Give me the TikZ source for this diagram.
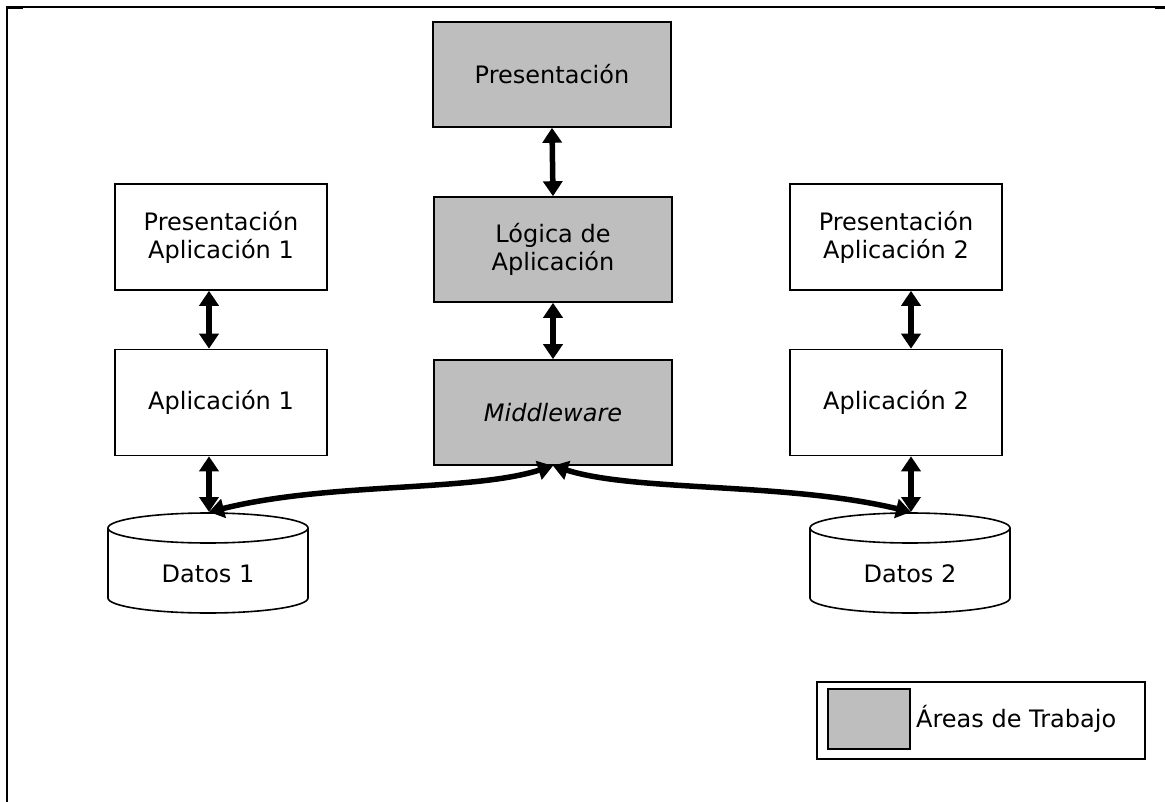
\documentclass[tikz,border=0pt]{standalone}
\usepackage{fontspec}
\setmainfont{DejaVu Sans}
\usetikzlibrary{arrows.meta}
\definecolor{areagray}{RGB}{190,190,190}
\tikzset{
  box/.style={draw, line width=1.6pt, align=center, inner sep=0pt,
    font=\fontsize{24}{28}\selectfont},
  sidebox/.style={box, minimum width=212pt, minimum height=106pt},
  workbox/.style={box, fill=areagray, minimum width=238pt, minimum height=105pt},
  tipshape/.tip={Triangle[length=15pt,width=19pt]},
  link/.style={line width=5.5pt, tipshape-tipshape},
  drum/.style={draw, line width=1.6pt, fill=white},
}
\begin{document}
\begin{tikzpicture}[x=1pt,y=-1pt]
  \useasboundingbox (0,0) rectangle (1165,802);
  % frame
  \draw[line width=1.4pt] (7,7) -- (1165,7);
  \draw[line width=2.2pt] (7,802) -- (7,7);
  \draw[line width=2.4pt] (6,7.5) -- (23,7.5);
  \draw[line width=2.4pt] (1155,7.5) -- (1165,7.5);

  % central stack
  \node[workbox] (pres)  at (552,74.5)  {Presentación};
  \node[workbox] (logic) at (553,249.5) {Lógica de\\Aplicación};
  \node[workbox] (mw)    at (553,412.5) {\textit{Middleware}};

  % application 1
  \node[sidebox] (pa1) at (221,237)   {Presentación\\Aplicación 1};
  \node[sidebox] (a1)  at (221,402.5) {Aplicación 1};

  % application 2
  \node[sidebox] (pa2) at (896,237)   {Presentación\\Aplicación 2};
  \node[sidebox] (a2)  at (896,402.5) {Aplicación 2};

  % data stores
  \draw[drum] (108,528) -- (108,598) arc[start angle=180,end angle=0,x radius=100,y radius=15]
    -- (308,528);
  \draw[drum] (208,528) ellipse[x radius=100,y radius=15];
  \node[font=\fontsize{24}{28}\selectfont] (d1) at (208,574) {Datos 1};
  \coordinate (d1t) at (209,512);

  \draw[drum] (810,528) -- (810,598) arc[start angle=180,end angle=0,x radius=100,y radius=15]
    -- (1010,528);
  \draw[drum] (910,528) ellipse[x radius=100,y radius=15];
  \node[font=\fontsize{24}{28}\selectfont] (d2) at (910,574) {Datos 2};
  \coordinate (d2t) at (911,512);

  % connectors
  \draw[link] (pres.south) -- (logic.north);
  \draw[link] (logic.south) -- (mw.north);
  \draw[link] (pa1.south -| d1t) -- (a1.north -| d1t);
  \draw[link] (a1.south -| d1t) -- (d1t);
  \draw[link] (pa2.south -| d2t) -- (a2.north -| d2t);
  \draw[link] (a2.south -| d2t) -- (d2t);
  \draw[link] (mw.south) .. controls (470,492) and (330,482) .. (d1t);
  \draw[link] (mw.south) .. controls (636,492) and (785,482) .. (d2t);

  % legend
  \node[draw, line width=1.6pt, minimum width=328pt, minimum height=77pt, inner sep=0pt]
    (legend) at (981,720.5) {};
  \node[draw, line width=1.6pt, fill=areagray, minimum width=82pt, minimum height=60pt,
    inner sep=0pt] (swatch) at (869,719) {};
  \node[anchor=west, inner sep=0pt, font=\fontsize{24}{28}\selectfont] (legtext)
    at (916,719) {Áreas de Trabajo};
\end{tikzpicture}
\end{document}
